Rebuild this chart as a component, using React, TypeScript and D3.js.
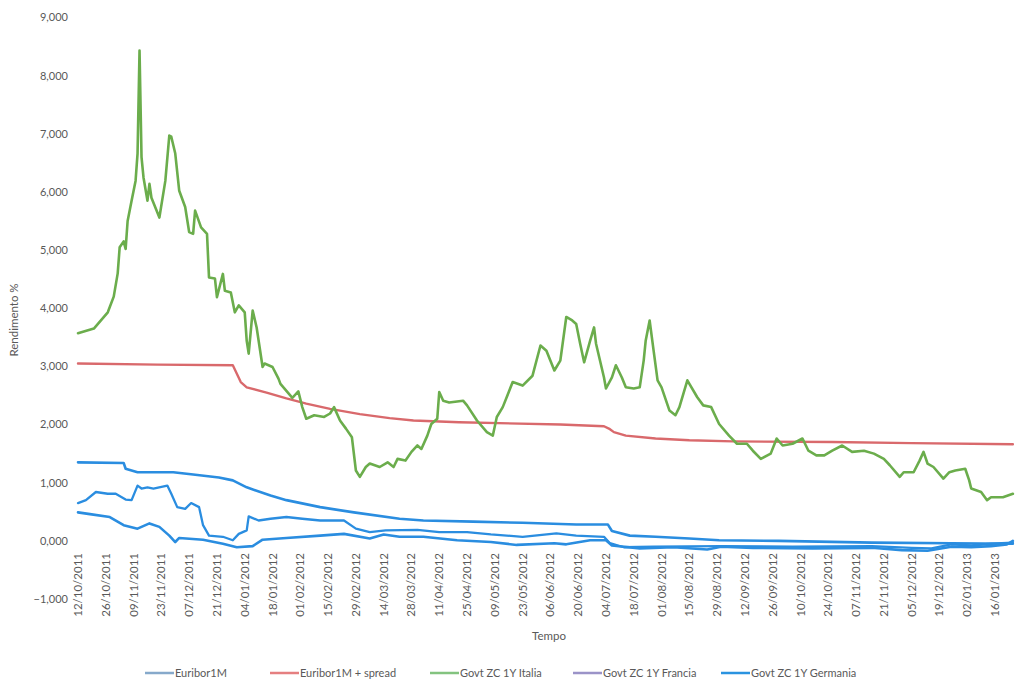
import React from 'react';
import * as d3 from 'd3';

// Data start: 12/10/2011. Points are [giorni dal 12/10/2011, rendimento %]
const START_DATE = '12/10/2011';

const xTickLabels = [
  '12/10/2011', '26/10/2011', '09/11/2011', '23/11/2011', '07/12/2011', '21/12/2011',
  '04/01/2012', '18/01/2012', '01/02/2012', '15/02/2012', '29/02/2012', '14/03/2012',
  '28/03/2012', '11/04/2012', '25/04/2012', '09/05/2012', '23/05/2012', '06/06/2012',
  '20/06/2012', '04/07/2012', '18/07/2012', '01/08/2012', '15/08/2012', '29/08/2012',
  '12/09/2012', '26/09/2012', '10/10/2012', '24/10/2012', '07/11/2012', '21/11/2012',
  '05/12/2012', '19/12/2012', '02/01/2013', '16/01/2013',
];

const yTicks = [-1, 0, 1, 2, 3, 4, 5, 6, 7, 8, 9];

const euribor1M: [number, number][] = [
  [0, 1.35], [23, 1.34], [24, 1.24], [30, 1.18], [48, 1.18], [58, 1.14], [71, 1.09],
  [78, 1.04], [85, 0.92], [97, 0.78], [105, 0.7], [122, 0.58], [139, 0.49], [162, 0.38],
  [174, 0.35], [199, 0.33], [224, 0.31], [251, 0.28], [267, 0.28], [269, 0.17], [278, 0.09],
  [291, 0.07], [308, 0.04], [323, 0.01], [353, 0.0], [400, -0.03], [440, -0.04], [471, -0.05],
];

const euribor1MSpread: [number, number][] = [
  [0, 3.05], [40, 3.03], [78, 3.02], [82, 2.73], [85, 2.64], [95, 2.55], [105, 2.45],
  [115, 2.36], [127, 2.27], [142, 2.18], [157, 2.11], [169, 2.07], [192, 2.04], [243, 2.0],
  [265, 1.97], [268, 1.92], [270, 1.87], [276, 1.81], [291, 1.76], [308, 1.73], [330, 1.71],
  [380, 1.7], [420, 1.68], [471, 1.66],
];

const italia: [number, number][] = [
  [0, 3.57], [8, 3.65], [15, 3.93], [18, 4.2], [20, 4.6], [21, 5.05], [23, 5.15], [24, 5.02],
  [25, 5.5], [27, 5.85], [29, 6.19], [30, 6.66], [31, 8.43], [32, 6.6], [33, 6.25], [35, 5.85],
  [36, 6.14], [37, 5.9], [41, 5.56], [44, 6.19], [46, 6.97], [47, 6.95], [49, 6.66], [51, 6.02],
  [54, 5.74], [56, 5.31], [58, 5.28], [59, 5.68], [62, 5.39], [65, 5.28], [66, 4.53], [69, 4.51],
  [70, 4.19], [73, 4.59], [74, 4.3], [77, 4.27], [79, 3.93], [81, 4.05], [84, 3.93], [85, 3.44],
  [86, 3.22], [88, 3.96], [90, 3.67], [93, 2.99], [94, 3.05], [98, 2.99], [101, 2.79], [102, 2.7],
  [105, 2.58], [108, 2.46], [111, 2.57], [113, 2.3], [115, 2.1], [119, 2.16], [124, 2.13],
  [127, 2.19], [129, 2.3], [132, 2.07], [135, 1.93], [138, 1.78], [140, 1.21], [142, 1.1],
  [145, 1.27], [147, 1.33], [152, 1.27], [156, 1.35], [159, 1.27], [161, 1.41], [165, 1.38],
  [168, 1.53], [171, 1.64], [173, 1.58], [176, 1.81], [178, 2.01], [181, 2.1], [182, 2.56],
  [184, 2.41], [187, 2.38], [194, 2.41], [196, 2.33], [201, 2.07], [206, 1.87], [209, 1.81],
  [211, 2.13], [214, 2.3], [219, 2.73], [224, 2.67], [229, 2.84], [233, 3.36], [236, 3.27],
  [240, 2.93], [243, 3.1], [246, 3.85], [249, 3.79], [251, 3.73], [253, 3.39], [255, 3.07],
  [258, 3.44], [260, 3.67], [261, 3.39], [265, 2.81], [266, 2.62], [269, 2.81], [271, 3.02],
  [274, 2.81], [276, 2.64], [280, 2.62], [283, 2.64], [285, 3.1], [286, 3.44], [288, 3.79],
  [290, 3.27], [292, 2.76], [294, 2.64], [298, 2.24], [301, 2.16], [303, 2.3], [307, 2.76],
  [312, 2.47], [315, 2.33], [319, 2.3], [323, 2.01], [328, 1.81], [332, 1.67], [337, 1.67],
  [340, 1.55], [344, 1.41], [349, 1.5], [352, 1.76], [355, 1.64], [360, 1.67], [365, 1.76],
  [368, 1.55], [372, 1.47], [376, 1.47], [380, 1.55], [385, 1.64], [390, 1.53], [396, 1.55],
  [401, 1.5], [406, 1.41], [409, 1.3], [414, 1.1], [416, 1.18], [421, 1.18], [424, 1.38],
  [426, 1.53], [428, 1.33], [431, 1.27], [436, 1.07], [439, 1.18], [442, 1.21], [447, 1.24],
  [449, 1.04], [450, 0.9], [455, 0.84], [458, 0.7], [460, 0.75], [466, 0.75], [471, 0.81],
];

const francia: [number, number][] = [
  [0, 0.65], [4, 0.7], [9, 0.84], [15, 0.81], [19, 0.81], [24, 0.71], [27, 0.7], [30, 0.95],
  [32, 0.9], [35, 0.92], [38, 0.9], [45, 0.95], [47, 0.81], [50, 0.58], [54, 0.55], [57, 0.65],
  [61, 0.58], [63, 0.27], [66, 0.09], [73, 0.07], [78, 0.01], [81, 0.12], [85, 0.18], [86, 0.42],
  [91, 0.35], [97, 0.38], [105, 0.41], [113, 0.38], [122, 0.35], [134, 0.35], [140, 0.21],
  [147, 0.15], [155, 0.18], [171, 0.19], [182, 0.15], [196, 0.15], [208, 0.11], [224, 0.07],
  [241, 0.13], [251, 0.09], [265, 0.07], [268, -0.04], [275, -0.11], [290, -0.1], [324, -0.09],
  [360, -0.1], [400, -0.09], [420, -0.12], [430, -0.13], [440, -0.06], [450, -0.08], [460, -0.05],
  [471, -0.03],
];

const germania: [number, number][] = [
  [0, 0.49], [6, 0.46], [16, 0.41], [23, 0.27], [30, 0.21], [36, 0.3], [41, 0.24], [46, 0.09],
  [49, -0.02], [51, 0.05], [63, 0.02], [73, -0.05], [80, -0.11], [88, -0.09], [93, 0.02],
  [105, 0.05], [122, 0.09], [134, 0.12], [147, 0.04], [154, 0.11], [162, 0.07], [174, 0.07],
  [191, 0.01], [208, -0.02], [221, -0.07], [240, -0.04], [246, -0.06], [258, 0.01], [266, 0.01],
  [269, -0.08], [283, -0.13], [300, -0.11], [317, -0.15], [324, -0.1], [340, -0.12], [370, -0.13],
  [400, -0.12], [415, -0.16], [428, -0.17], [440, -0.1], [450, -0.11], [460, -0.09], [468, -0.06],
  [471, 0.0],
];

const seriesNames = [
  'Euribor1M', 'Euribor1M + spread', 'Govt ZC 1Y Italia', 'Govt ZC 1Y Francia', 'Govt ZC 1Y Germania',
];

const W = 1015;
const H = 681;
const FONT = 'Lato, "Open Sans", sans-serif';
const TEXT = '#595959';

export default function App() {
  const parse = d3.timeParse('%d/%m/%Y');
  const start = parse(START_DATE) as Date;
  const tickDates = xTickLabels.map((l) => parse(l) as Date);

  const x = d3.scaleTime()
    .domain([tickDates[0], tickDates[tickDates.length - 1]])
    .range([78, 995]);
  const y = d3.scaleLinear().domain([-1, 9]).range([599, 17.5]);

  const fmt = (v: number) => d3.format(',.3f')(v).replace('.', '#').replace(',', '.').replace('#', ',');

  const line = d3.line<[number, number]>()
    .x((d) => x(d3.timeDay.offset(start, d[0])))
    .y((d) => y(d[1]));

  const series = [
    { name: seriesNames[0], data: euribor1M, stroke: '#2a8de0', width: 2.6, legend: '#86a9cb' },
    { name: seriesNames[1], data: euribor1MSpread, stroke: '#d9696c', width: 2.4, legend: '#e57f80' },
    { name: seriesNames[2], data: italia, stroke: '#6bad4c', width: 2.6, legend: '#83c37f' },
    { name: seriesNames[3], data: francia, stroke: '#2a8de0', width: 2.3, legend: '#9b93c8' },
    { name: seriesNames[4], data: germania, stroke: '#2a8de0', width: 2.6, legend: '#2a93e0' },
  ];

  const legendTextX = [175, 300, 460, 603, 751];

  return (
    <svg width={W} height={H} style={{ position: 'absolute', left: 0, top: 0, background: '#fff' }}
      fontFamily={FONT}>
      <rect x={0} y={0} width={W} height={H} fill="#fff" />
      {yTicks.map((t) => (
        <text key={t} x={68} y={y(t)} dy="0.35em" textAnchor="end" fontSize={11} fill={TEXT}>
          {fmt(t)}
        </text>
      ))}
      <text transform={`translate(18,${320}) rotate(-90)`} textAnchor="middle" fontSize={11.5} fill={TEXT}>
        Rendimento %
      </text>
      {xTickLabels.map((l, i) => (
        <text key={l} transform={`translate(${x(tickDates[i])},553) rotate(-90)`} dy="0.35em"
          textAnchor="end" fontSize={11.5} fill={TEXT}>
          {l}
        </text>
      ))}
      <text x={549} y={640} textAnchor="middle" fontSize={11.5} fill={TEXT}>Tempo</text>
      {series.map((s) => (
        <path key={s.name} d={line(s.data) || ''} fill="none" stroke={s.stroke}
          strokeWidth={s.width} strokeLinejoin="round" strokeLinecap="round" />
      ))}
      {series.map((s, i) => (
        <g key={s.name} transform={`translate(${legendTextX[i]},673)`}>
          <line x1={-30} x2={-1} y1={0} y2={0} stroke={s.legend} strokeWidth={2.5} />
          <text x={0} y={0} dy="0.35em" fontSize={11} fill={TEXT}>{s.name}</text>
        </g>
      ))}
    </svg>
  );
}
